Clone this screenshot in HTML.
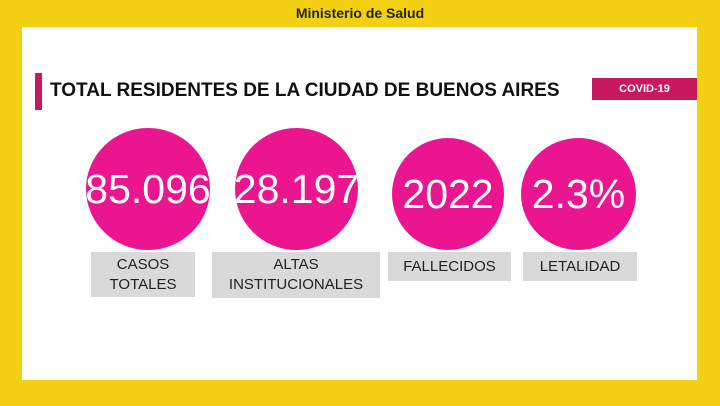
<!DOCTYPE html>
<html><head><style>
body{margin:0;width:720px;height:406px;background:#f3d012;position:relative;overflow:hidden;font-family:"Liberation Sans",sans-serif}
.p{position:absolute}
.hdr{left:0;width:720px;top:5px;text-align:center;font-weight:bold;font-size:14px;color:#222}
.panel{left:22px;top:27px;width:675px;height:353px;background:#fff}
.c{position:absolute;border-radius:50%;background:#eb168f;color:#fff;display:flex;align-items:center;justify-content:center;font-size:41px;overflow:hidden;white-space:nowrap}
.l{position:absolute;background:#d9d9d9;color:#222;font-size:15px;text-align:center;line-height:20px;display:flex;align-items:center;justify-content:center}
</style></head><body>
<div class="p hdr">Ministerio de Salud</div>
<div class="p panel"></div>
<div class="p" style="left:35px;top:73px;width:7px;height:37px;background:#c8185f"></div>
<div class="p" style="left:50px;top:80px;font-size:19px;font-weight:bold;color:#111">TOTAL RESIDENTES DE LA CIUDAD DE BUENOS AIRES</div>
<div class="p" style="left:592px;top:78px;width:105px;height:22px;background:#c8185f;color:#fff;font-size:11px;font-weight:bold;line-height:22px;text-align:center">COVID-19</div>
<div class="c" style="left:86px;top:128px;width:124px;height:122px">85.096</div>
<div class="c" style="left:235px;top:128px;width:123px;height:122px">28.197</div>
<div class="c" style="left:392px;top:138px;width:112px;height:112px">2022</div>
<div class="c" style="left:521px;top:138px;width:115px;height:112px">2.3%</div>
<div class="l" style="left:91px;top:252px;width:104px;height:45px">CASOS<br>TOTALES</div>
<div class="l" style="left:212px;top:252px;width:168px;height:46px">ALTAS<br>INSTITUCIONALES</div>
<div class="l" style="left:388px;top:252px;width:123px;height:29px">FALLECIDOS</div>
<div class="l" style="left:523px;top:252px;width:114px;height:29px">LETALIDAD</div>
</body></html>
